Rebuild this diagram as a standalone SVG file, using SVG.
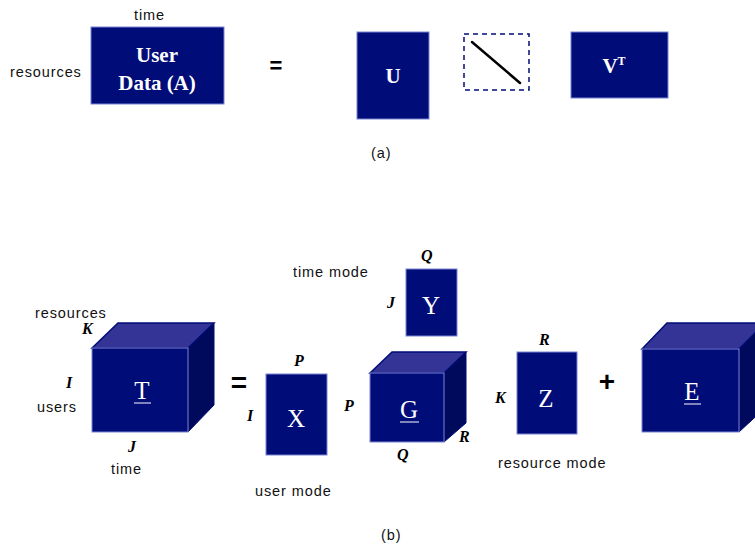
<svg xmlns="http://www.w3.org/2000/svg" width="755" height="546" viewBox="0 0 755 546">
<style>
.box{fill:#000c78;stroke:#7a84d4;stroke-width:1}
.top{fill:#343497;stroke:#000c78;stroke-width:1.5}
.side{fill:#000a5c;stroke:#000c78;stroke-width:1}
.lbl{font-family:"Liberation Sans",Arial,sans-serif;font-size:14.5px;letter-spacing:0.9px;fill:#111}
.var{font-family:"Liberation Serif","Times New Roman",serif;font-size:16px;font-weight:bold;font-style:italic;fill:#000}
.big{font-family:"Liberation Serif","Times New Roman",serif;font-size:25px;fill:#fff;text-anchor:middle}
.bold{font-family:"Liberation Serif","Times New Roman",serif;font-size:21px;font-weight:bold;fill:#fff;text-anchor:middle}
.op{font-family:"Liberation Sans",Arial,sans-serif;font-weight:bold;fill:#000;text-anchor:middle}
</style>
<rect width="755" height="546" fill="#fff"/>
<g id="labels">
<text class="lbl" x="134" y="20">time</text>
<text class="lbl" x="10" y="77">resources</text>
<text class="op" x="276" y="73" font-size="22">=</text>
<text class="lbl" x="371" y="158" font-size="17" letter-spacing="0">(a)</text>
<text class="lbl" x="35" y="318">resources</text>
<text class="var" x="82" y="334">K</text>
<text class="var" x="66" y="388">I</text>
<text class="lbl" x="37" y="412">users</text>
<text class="var" x="128" y="452">J</text>
<text class="lbl" x="111" y="474">time</text>
<text class="op" x="239" y="392" font-size="28">=</text>
<text class="var" x="294" y="366">P</text>
<text class="var" x="247" y="421">I</text>
<text class="lbl" x="255" y="496">user mode</text>
<text class="var" x="344" y="411">P</text>
<text class="var" x="459" y="442">R</text>
<text class="var" x="397" y="460">Q</text>
<text class="lbl" x="293" y="277">time mode</text>
<text class="var" x="421" y="261">Q</text>
<text class="var" x="387" y="308">J</text>
<text class="var" x="539" y="345">R</text>
<text class="var" x="495" y="403">K</text>
<text class="op" x="607" y="391" font-size="28">+</text>
<text class="lbl" x="498" y="468">resource mode</text>
<text class="lbl" x="381" y="540" font-size="17" letter-spacing="0">(b)</text>
</g>
<g id="A">
<rect class="box" x="91" y="27" width="133" height="77"/>
<text class="bold" x="157" y="62">User</text>
<text class="bold" x="157" y="90">Data (A)</text>
</g>
<g id="U">
<rect class="box" x="357" y="32" width="72" height="87"/>
<text class="bold" x="393" y="83">U</text>
</g>
<g id="S">
<rect x="464" y="34" width="65" height="56" fill="none" stroke="#000c78" stroke-width="1.5" stroke-dasharray="5,4"/>
<line x1="472" y1="42" x2="520" y2="83" stroke="#000" stroke-width="2.5" stroke-linecap="round"/>
</g>
<g id="VT">
<rect class="box" x="571" y="32" width="97" height="66"/>
<text class="bold" x="614" y="73">V<tspan font-size="12" dy="-8">T</tspan></text>
</g>
<g id="T">
<polygon class="top" points="92,348 118,323 214,323 188,348"/>
<polygon class="side" points="188,348 214,323 214,405 188,432"/>
<rect class="box" x="92" y="348" width="96" height="84"/>
<text class="big" x="142" y="399">T</text>
<line x1="134" y1="403" x2="151" y2="403" stroke="#fff" stroke-width="1"/>
</g>
<g id="X">
<rect class="box" x="266" y="374" width="61" height="81"/>
<text class="big" x="296" y="427">X</text>
</g>
<g id="G">
<polygon class="top" points="370,373 392,352 466,352 444,373"/>
<polygon class="side" points="444,373 466,352 466,423 444,442"/>
<rect class="box" x="370" y="373" width="74" height="69"/>
<text class="big" x="409" y="418">G</text>
<line x1="400" y1="422" x2="419" y2="422" stroke="#fff" stroke-width="1"/>
</g>
<g id="Y">
<rect class="box" x="406" y="269" width="51" height="67"/>
<text class="big" x="431" y="314">Y</text>
</g>
<g id="Z">
<rect class="box" x="517" y="352" width="60" height="82"/>
<text class="big" x="546" y="407">Z</text>
</g>
<g id="E">
<polygon class="top" points="642,349 667,323 765,323 739,349"/>
<polygon class="side" points="739,349 765,323 765,408 739,432"/>
<rect class="box" x="642" y="349" width="97" height="83"/>
<text class="big" x="692" y="400">E</text>
<line x1="684" y1="404" x2="701" y2="404" stroke="#fff" stroke-width="1"/>
</g>
<g id="connectors"></g>
</svg>
